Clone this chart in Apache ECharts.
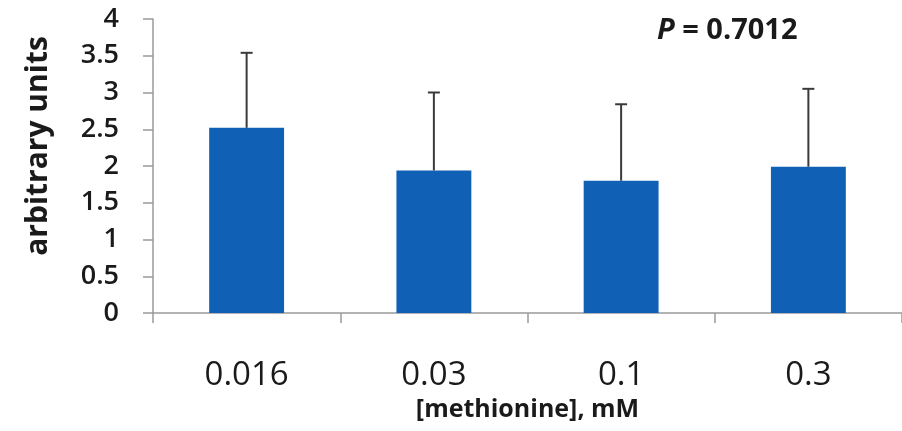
<!DOCTYPE html>
<html><head><meta charset="utf-8">
<script src="https://cdn.jsdelivr.net/npm/echarts@6/dist/echarts.min.js"></script>
<style>html,body{margin:0;padding:0;background:#fff}#c{width:902px;height:431px}</style>
</head><body><div id="c"></div>
<script>
const categories = ['0.016', '0.03', '0.1', '0.3'];
const means = [2.52, 1.94, 1.80, 1.99];
const errors = [1.02, 1.06, 1.04, 1.06];
const yAxisTitle = 'arbitrary units';
const xAxisTitle = '[methionine], mM';
const pText = '0.7012';

const chart = echarts.init(document.getElementById('c'), null, {renderer: 'canvas'});
const font = '"Open Sans", sans-serif';
chart.setOption({
  animation: false,
  backgroundColor: '#fff',
  title: {
    text: '{i|P} = ' + pText,
    left: 652, top: 11,
    textStyle: {
      fontFamily: font, fontSize: 29, fontWeight: 'bold', color: '#1a1a1a',
      rich: {i: {fontFamily: font, fontSize: 29, fontWeight: 'bold', fontStyle: 'italic', color: '#1a1a1a'}}
    }
  },
  grid: {left: 153, right: -6, top: 19, bottom: 118},
  xAxis: {
    type: 'category', data: categories,
    name: xAxisTitle, nameLocation: 'middle', nameGap: 82,
    nameTextStyle: {fontFamily: font, fontSize: 25, fontWeight: 'bold', color: '#1a1a1a'},
    axisLine: {lineStyle: {color: '#9a9a9a', width: 1.5}},
    axisTick: {show: true, length: 10, lineStyle: {color: '#9a9a9a', width: 1.5}},
    axisLabel: {fontFamily: font, fontSize: 33, fontWeight: 500, color: '#1a1a1a', margin: 46}
  },
  yAxis: {
    type: 'value', min: 0, max: 4, interval: 0.5,
    name: yAxisTitle, nameLocation: 'middle', nameGap: 100, nameRotate: 90,
    nameTextStyle: {fontFamily: font, fontSize: 30, fontWeight: 'bold', color: '#1a1a1a', padding: [0, 0, 0, 40]},
    axisLine: {show: true, lineStyle: {color: '#9a9a9a', width: 1.5}},
    axisTick: {show: true, length: 10, lineStyle: {color: '#9a9a9a', width: 1.5}},
    splitLine: {show: false},
    axisLabel: {fontFamily: font, fontSize: 27, fontWeight: 600, color: '#1a1a1a', margin: 34}
  },
  series: [
    {
      type: 'bar', data: means, barWidth: '40%',
      itemStyle: {color: '#1060b6'}
    },
    {
      type: 'custom',
      data: means.map((m, i) => [i, m, m + errors[i]]),
      encode: {x: 0, y: [1, 2]},
      z: 3,
      renderItem: function (params, api) {
        const base = api.coord([api.value(0), api.value(1)]);
        const top = api.coord([api.value(0), api.value(2)]);
        const hw = 6;
        return {
          type: 'group',
          children: [
            {type: 'line', shape: {x1: base[0], y1: base[1], x2: top[0], y2: top[1]}, style: {stroke: '#3a3a3a', lineWidth: 2}},
            {type: 'line', shape: {x1: top[0] - hw, y1: top[1], x2: top[0] + hw, y2: top[1]}, style: {stroke: '#3a3a3a', lineWidth: 2}}
          ]
        };
      }
    }
  ]
});
</script>
</body></html>
